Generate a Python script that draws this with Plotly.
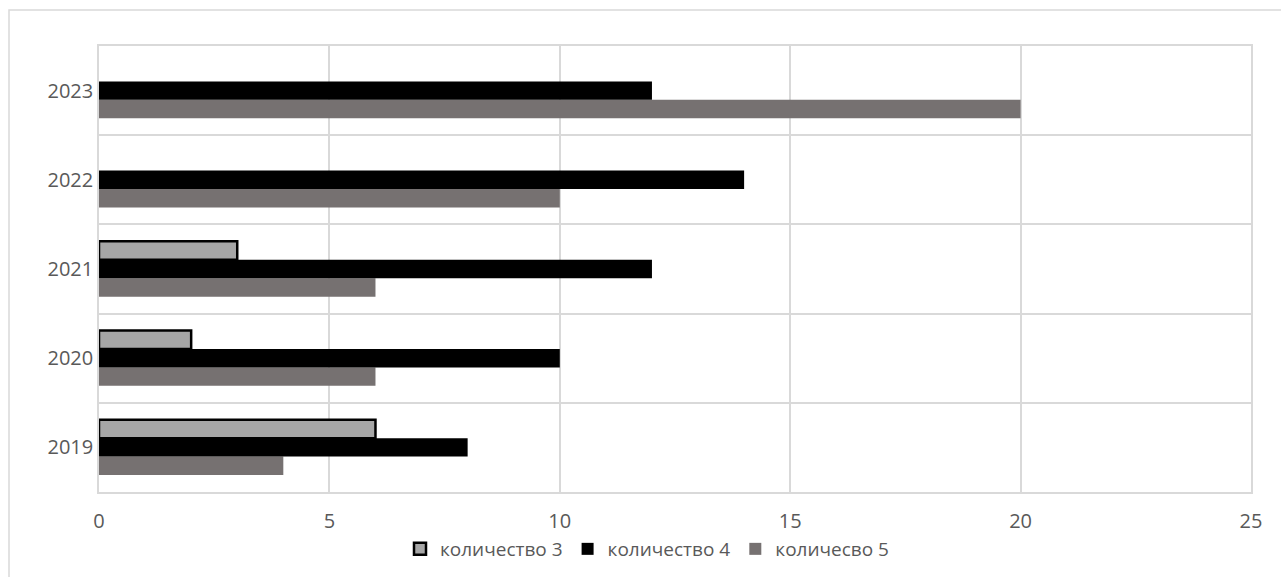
import plotly.graph_objects as go

years = ["2019", "2020", "2021", "2022", "2023"]
q3 = [6, 2, 3, 0, 0]
q4 = [8, 10, 12, 14, 12]
q5 = [4, 6, 6, 10, 20]
names = ["количество 3", "количество 4", "количесво 5"]
x_ticks = [0, 5, 10, 15, 20, 25]

W, H = 1281, 577
L, R, T, B = 99, 1251, 46, 492
pw, ph = R - L, B - T

fig = go.Figure()
fig.add_trace(go.Bar(y=years, x=q5, name=names[2], orientation="h",
                     marker=dict(color="#767171", line=dict(width=0))))
fig.add_trace(go.Bar(y=years, x=q4, name=names[1], orientation="h",
                     marker=dict(color="#000000", line=dict(width=0))))
fig.add_trace(go.Bar(y=years, x=q3, name=names[0], orientation="h",
                     marker=dict(color="#a6a6a6",
                                 line=dict(width=[2.5 if v > 0 else 0 for v in q3],
                                           color="#000000"))))

font_family = "Open Sans, Liberation Sans, sans-serif"
fig.update_layout(
    width=W, height=H,
    barmode="group", bargap=0.38, bargroupgap=0,
    plot_bgcolor="white", paper_bgcolor="white",
    margin=dict(l=L, r=W - R, t=T, b=H - B, autoexpand=False),
    font=dict(family=font_family, size=20, color="#595959"),
    showlegend=True,
    legend=dict(orientation="h", x=(647 - L) / pw, xanchor="center", y=-(530 - B) / ph,
                yanchor="top", traceorder="reversed", font=dict(size=19, color="#595959"),
                itemwidth=30, tracegroupgap=0, bgcolor="rgba(0,0,0,0)"),
    xaxis=dict(range=[0, 25], tickvals=x_ticks, showgrid=True, gridcolor="#d9d9d9",
               gridwidth=1.5, zeroline=False, showline=True, linecolor="#d9d9d9",
               linewidth=1.5, mirror=True, ticks="outside", ticklen=10,
               tickcolor="rgba(0,0,0,0)", tickfont=dict(size=20, color="#595959")),
    yaxis=dict(type="category", categoryorder="array", categoryarray=years,
               range=[-0.5, 4.5], tickson="boundaries", showgrid=True,
               gridcolor="#d9d9d9", gridwidth=1.5, showline=True, linecolor="#d9d9d9",
               linewidth=1.5, mirror=True, ticks="outside", ticklen=20,
               tickcolor="rgba(0,0,0,0)", tickfont=dict(size=20, color="#595959")),
    shapes=[dict(type="rect", xref="paper", yref="paper",
                 x0=(9 - L) / pw, x1=(1290 - L) / pw,
                 y0=-(590 - B) / ph, y1=(B - 10) / ph,
                 line=dict(color="#d9d9d9", width=1.5), fillcolor="rgba(0,0,0,0)",
                 layer="below")],
)

fig.write_html("out.html", config={"displayModeBar": False},
               post_script="document.body.style.margin='0';")
